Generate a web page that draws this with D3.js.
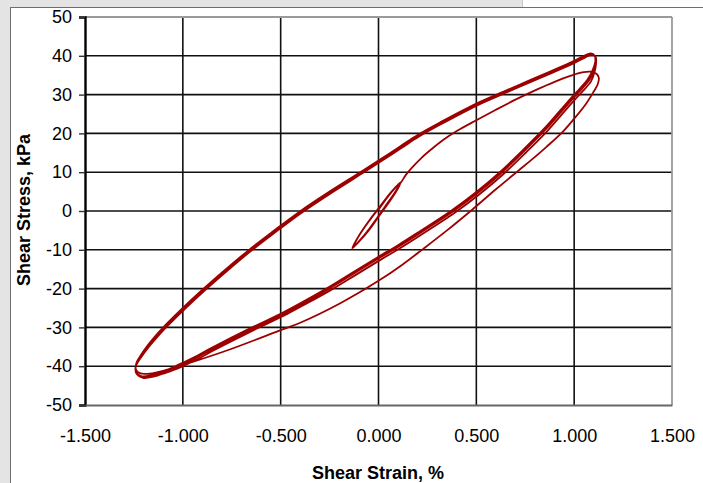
<!DOCTYPE html>
<html>
<head>
<meta charset="utf-8">
<script src="https://cdn.jsdelivr.net/npm/d3@7"></script>
<style>
  html, body { margin: 0; padding: 0; background: #e4e4e4; }
  svg { display: block; }
  text { font-family: "Liberation Sans", Arial, sans-serif; fill: #000; }
</style>
</head>
<body>
<svg id="chart" width="703" height="483"></svg>
<script>
// ---- Data (strain %, stress kPa) ----
const xTicks = [-1.5, -1.0, -0.5, 0.0, 0.5, 1.0, 1.5];
const xTickLabels = ["-1.500", "-1.000", "-0.500", "0.000", "0.500", "1.000", "1.500"];
const yTicks = [-50, -40, -30, -20, -10, 0, 10, 20, 30, 40, 50];
const yTickLabels = ["-50", "-40", "-30", "-20", "-10", "0", "10", "20", "30", "40", "50"];
const xTitle = "Shear Strain, %";
const yTitle = "Shear Stress, kPa";

const smallCycles = [
  [0.000, 0.3], [0.050, 3.8], [0.090, 6.2], [0.112, 7.2],
  [0.090, 5.0], [0.050, 2.0], [0.000, -1.5], [-0.050, -5.0], [-0.100, -7.9], [-0.134, -9.6],
  [-0.100, -6.4], [-0.050, -2.7], [0.000, 0.6], [0.050, 3.9], [0.090, 6.2], [0.110, 7.3],
  [0.088, 5.1], [0.048, 2.2], [0.000, -1.3], [-0.052, -4.9], [-0.098, -7.7], [-0.130, -9.4],
  [-0.098, -6.2], [-0.048, -2.5], [0.002, 0.8], [0.052, 4.1], [0.092, 6.4], [0.112, 7.2]
];
const virginLoading = [
  [0.140, 9.3], [0.170, 11.1], [0.220, 13.7], [0.270, 15.9], [0.330, 18.3], [0.400, 20.6],
  [0.500, 23.4], [0.600, 26.1], [0.700, 28.7], [0.800, 31.1], [0.900, 33.3], [0.980, 34.8],
  [1.040, 35.7], [1.085, 35.9], [1.115, 35.3], [1.126, 34.3]
];
const firstUnloading = [
  [1.120, 32.6], [1.100, 30.8], [1.060, 27.6], [1.000, 23.8], [0.945, 20.6], [0.860, 16.6],
  [0.780, 13.1], [0.715, 10.4], [0.600, 5.6], [0.480, 0.4], [0.350, -5.0], [0.230, -9.7],
  [0.120, -13.9], [0.000, -18.0], [-0.200, -23.9], [-0.400, -28.8], [-0.500, -30.7],
  [-0.750, -35.5], [-0.950, -38.9], [-1.080, -40.9], [-1.170, -41.9], [-1.220, -41.8], [-1.240, -40.8]
];
const ascending1 = [
  [-1.236, -39.0], [-1.215, -37.2], [-1.185, -35.0], [-1.145, -32.5], [-1.100, -30.0],
  [-1.000, -25.0], [-0.900, -20.3], [-0.780, -15.0], [-0.671, -10.4], [-0.540, -5.3],
  [-0.407, -0.3], [-0.250, 5.0], [-0.083, 10.3], [0.000, 13.0], [0.112, 16.7], [0.200, 19.6],
  [0.317, 22.9], [0.500, 27.7], [0.640, 30.8], [0.760, 33.4], [0.880, 36.0], [1.000, 38.7],
  [1.050, 40.0], [1.085, 40.6], [1.105, 40.0]
];
const descending1 = [
  [1.108, 38.6], [1.095, 36.4], [1.070, 34.0], [1.030, 31.6], [1.000, 30.0], [0.930, 26.0],
  [0.850, 21.4], [0.740, 15.8], [0.620, 10.0], [0.500, 4.9], [0.370, 0.0], [0.200, -5.6],
  [0.100, -8.8], [0.000, -11.8], [-0.130, -15.8], [-0.260, -19.8], [-0.400, -23.8],
  [-0.500, -26.5], [-0.654, -30.2], [-0.850, -35.2], [-0.950, -37.9], [-1.030, -39.8],
  [-1.100, -41.3], [-1.160, -42.3], [-1.210, -42.6], [-1.238, -41.6], [-1.242, -40.4]
];
const ascending2 = [
  [-1.236, -39.2], [-1.214, -37.4], [-1.183, -35.2], [-1.142, -32.7], [-1.097, -30.2],
  [-0.997, -25.2], [-0.897, -20.5], [-0.777, -15.2], [-0.668, -10.6], [-0.537, -5.5],
  [-0.404, -0.5], [-0.247, 4.8], [-0.080, 10.1], [0.003, 12.8], [0.115, 16.5], [0.203, 19.4],
  [0.320, 22.7], [0.503, 27.5], [0.643, 30.6], [0.763, 33.2], [0.883, 35.8], [1.003, 38.5],
  [1.053, 39.8], [1.088, 40.5], [1.107, 39.9]
];
const descending2 = [
  [1.110, 38.4], [1.100, 36.2], [1.078, 33.8], [1.038, 31.4], [1.008, 29.8], [0.938, 25.8],
  [0.858, 21.2], [0.748, 15.6], [0.628, 9.8], [0.508, 4.7], [0.378, -0.2], [0.208, -5.8],
  [0.108, -9.0], [0.008, -12.0], [-0.122, -16.0], [-0.252, -20.0], [-0.392, -24.0],
  [-0.492, -26.7], [-0.646, -30.4], [-0.842, -35.4], [-0.942, -38.1], [-1.022, -40.0],
  [-1.094, -41.5], [-1.156, -42.5], [-1.208, -42.8], [-1.238, -41.8], [-1.242, -40.6]
];
const ascending3 = [
  [-1.235, -39.4], [-1.212, -37.6], [-1.180, -35.4], [-1.138, -32.9], [-1.093, -30.4],
  [-0.993, -25.4], [-0.893, -20.7], [-0.773, -15.4], [-0.664, -10.8], [-0.533, -5.7],
  [-0.400, -0.7], [-0.243, 4.6], [-0.076, 9.9], [0.007, 12.6], [0.119, 16.3], [0.207, 19.2],
  [0.324, 22.5], [0.507, 27.3], [0.647, 30.4], [0.767, 33.0], [0.887, 35.6], [1.007, 38.3],
  [1.057, 39.6], [1.092, 40.3], [1.110, 39.7]
];
const descending3 = [
  [1.112, 38.0], [1.104, 35.8], [1.086, 33.4], [1.046, 31.0], [1.016, 29.4], [0.946, 25.4],
  [0.866, 20.8], [0.756, 15.2], [0.636, 9.4], [0.516, 4.3], [0.386, -0.6], [0.216, -6.2],
  [0.116, -9.4], [0.016, -12.4], [-0.114, -16.4], [-0.244, -20.4], [-0.384, -24.3],
  [-0.484, -27.0], [-0.638, -30.7], [-0.834, -35.7], [-0.934, -38.4], [-1.014, -40.3],
  [-1.088, -41.7], [-1.150, -42.7], [-1.204, -43.0], [-1.236, -42.0], [-1.242, -40.8]
];

// ---- Layout ----
const W = 703, H = 483;
const plot = { left: 85, right: 672, top: 17, bottom: 405 };
const svg = d3.select("#chart");

// window chrome
svg.append("rect").attr("x", 0).attr("y", 0).attr("width", W).attr("height", H).attr("fill", "#e4e4e4");
svg.append("rect").attr("x", 523).attr("y", 0).attr("width", W - 523).attr("height", 7).attr("fill", "#ffffff");
svg.append("line").attr("x1", 522.5).attr("x2", 522.5).attr("y1", 0).attr("y2", 7).attr("stroke", "#c8c8c8");
svg.append("rect").attr("x", 11).attr("y", 8).attr("width", W - 11).attr("height", H - 8).attr("fill", "#ffffff");
svg.append("line").attr("x1", 10).attr("x2", W).attr("y1", 7.5).attr("y2", 7.5).attr("stroke", "#6e6e6e");
svg.append("line").attr("x1", 10.5).attr("x2", 10.5).attr("y1", 7).attr("y2", H).attr("stroke", "#6e6e6e");

const x = d3.scaleLinear().domain([-1.5, 1.5]).range([plot.left, plot.right]);
const y = d3.scaleLinear().domain([-50, 50]).range([plot.bottom, plot.top]);

// gridlines
const g = svg.append("g");
g.selectAll(".hg").data(yTicks.filter(v => v > -50 && v < 50)).join("line")
  .attr("x1", plot.left).attr("x2", plot.right)
  .attr("y1", d => y(d)).attr("y2", d => y(d))
  .attr("stroke", "#111").attr("stroke-width", 1.6);
g.selectAll(".vg").data(xTicks.filter(v => v > -1.5 && v < 1.5)).join("line")
  .attr("y1", plot.top).attr("y2", plot.bottom)
  .attr("x1", d => x(d)).attr("x2", d => x(d))
  .attr("stroke", "#111").attr("stroke-width", 1.6);

// plot frame (top / right gray)
svg.append("line").attr("x1", plot.left).attr("x2", plot.right).attr("y1", plot.top).attr("y2", plot.top)
  .attr("stroke", "#9a9a9a").attr("stroke-width", 1.8);
svg.append("line").attr("x1", plot.right).attr("x2", plot.right).attr("y1", plot.top).attr("y2", plot.bottom)
  .attr("stroke", "#9a9a9a").attr("stroke-width", 1.8);

// y axis
const yAxis = svg.append("g").attr("transform", `translate(${plot.left},0)`)
  .call(d3.axisLeft(y).tickValues(yTicks).tickSize(6).tickPadding(7)
    .tickFormat((d, i) => yTickLabels[i]));
yAxis.select(".domain").attr("stroke", "#000").attr("stroke-width", 2.4);
yAxis.selectAll(".tick line").attr("stroke", "#333").attr("stroke-width", 1.4);
yAxis.selectAll("text").attr("font-size", 18).attr("font-family", "Liberation Sans, Arial, sans-serif").attr("fill", "#000");

// x axis
const xAxis = svg.append("g").attr("transform", `translate(0,${plot.bottom})`)
  .call(d3.axisBottom(x).tickValues(xTicks).tickSize(0).tickPadding(24)
    .tickFormat((d, i) => xTickLabels[i]));
xAxis.select(".domain").attr("stroke", "#666").attr("stroke-width", 1.8);
xAxis.selectAll("text").attr("font-size", 18).attr("font-family", "Liberation Sans, Arial, sans-serif").attr("fill", "#000");

// titles
svg.append("text").attr("x", 378).attr("y", 479).attr("text-anchor", "middle")
  .attr("font-size", 18).attr("font-weight", "bold").text(xTitle);
svg.append("text").attr("transform", "translate(30,210) rotate(-90)").attr("text-anchor", "middle")
  .attr("font-size", 18).attr("font-weight", "bold").text(yTitle);

// hysteresis trajectory
const path = [].concat(smallCycles, virginLoading, firstUnloading,
  ascending1, descending1, ascending2, descending2, ascending3, descending3);
const line = d3.line().x(d => x(d[0])).y(d => y(d[1])).curve(d3.curveCatmullRom.alpha(0.5));
svg.append("path").datum(path).attr("d", line)
  .attr("fill", "none").attr("stroke", "#9c0000").attr("stroke-width", 1.8)
  .attr("stroke-linejoin", "round");
</script>
</body>
</html>
